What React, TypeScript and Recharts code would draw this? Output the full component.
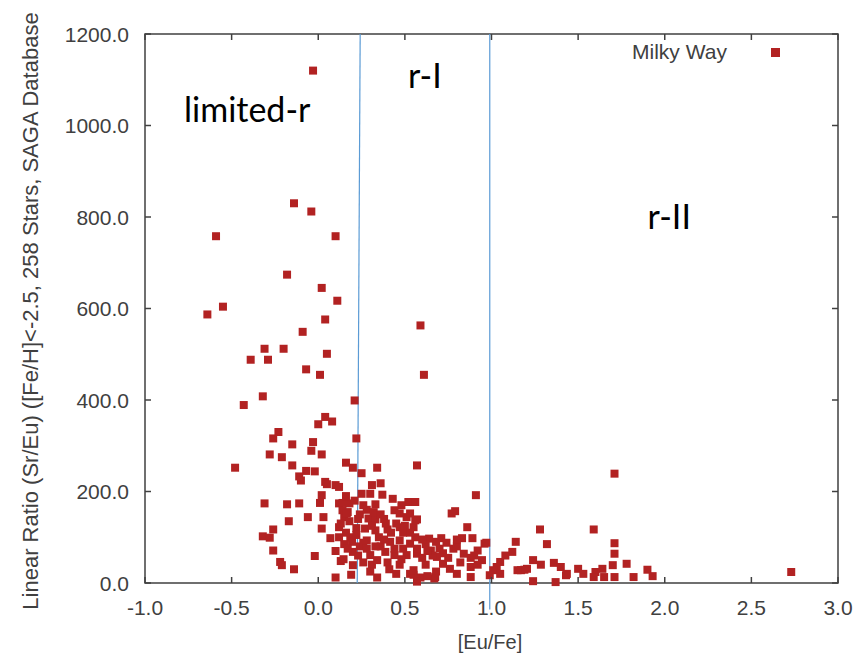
import React from 'react';
import {
  ScatterChart, Scatter, XAxis, YAxis, ZAxis, ReferenceLine, ReferenceArea,
  ReferenceDot, Legend
} from 'recharts';

// [Eu/Fe] and linear Sr/Eu ratio
const euFe = [
  -0.03, -0.14, -0.04, -0.59, 0.10, -0.18, 0.02, 0.11, -0.55, -0.64,
  0.04, 0.59, -0.09, -0.31, -0.20, 0.05, -0.39, -0.29, -0.07, 0.01,
  0.61, -0.32, -0.43, 0.21, 0.04, 0.00, 0.08, -0.23, -0.26, 0.22,
  -0.15, -0.03, -0.04, -0.28, 0.02, -0.21, -0.48, -0.15, 0.16, 0.20,
  0.34, 0.57, 0.25, -0.07, -0.02, -0.11, -0.10, 0.04, 0.05, 0.10,
  0.12, 0.31, 0.36, 0.02, 0.25, 0.30, 0.37, 0.91, 1.71, -0.31,
  -0.18, -0.11, 0.01, 0.12, 0.18, 0.33, 0.43, 0.52, 0.48, 0.44,
  0.17, 0.15, -0.17, -0.06, 0.03, 0.77, 0.79, 0.51, 0.57, 0.18,
  0.29, 0.33, 0.02, -0.26, -0.32, -0.28, 0.12, 0.27, 0.33, 0.40,
  0.47, 0.55, 0.86, 0.07, 0.71, 0.83, 0.89, 0.96, -0.26, -0.02,
  0.10, -0.22, -0.21, -0.14, 0.13, 0.20, 0.10, 0.19, 0.34, 0.55,
  0.59, 0.57, 0.14, 0.165, 0.47, 0.56, 0.185, 0.195, 0.28, 0.35,
  0.415, 0.47, 0.53, 0.56, 0.146, 0.20, 0.30, 0.387, 0.44, 0.51,
  0.57, 0.53, 0.56, 0.53, 0.64, 0.57, 0.65, 0.685, 0.78, 0.84,
  0.92, 0.945, 1.03, 1.05, 1.17, 1.205, 0.55, 0.675, 0.76, 0.80,
  0.88, 0.99, 1.01, 0.72, 0.88, 1.14, 1.12, 1.28, 1.59, 1.32,
  1.71, 1.71, 1.24, 1.285, 1.19, 1.36, 1.40, 1.435, 1.50, 1.53,
  1.60, 1.64, 1.70, 1.78, 1.71, 1.65, 1.59, 1.82, 1.90, 1.93,
  1.24, 1.37, 1.43, 2.73, 1.15, 1.05, 0.67, 0.62, 0.68, 0.74,
  0.80, 0.66, 0.70, 0.75, 0.82, 0.88, 0.92, 0.62, 0.68, 0.97,
  0.13, 0.16, 0.22, 0.24, 0.23, 0.26, 0.15, 0.12, 0.40, 0.47,
  0.36, 0.42, 0.49, 0.31, 0.24, 0.38, 0.14, 0.16, 0.21, 0.26,
  0.28, 0.23, 0.32, 0.36, 0.39, 0.45, 0.50, 0.31, 0.22, 0.26,
  0.33, 0.38, 0.44, 0.49, 0.53, 0.60, 0.63, 0.60, 0.17, 0.28,
  0.34, 0.41, 0.48, 0.72, 0.80, 0.90, 1.08, 0.30, 0.63, 0.45,
];

const srEu = [
  1120, 830, 812, 758, 758, 674, 645, 617, 604, 587,
  576, 563, 549, 512, 512, 501, 488, 488, 467, 455,
  455, 408, 389, 399, 363, 347, 353, 330, 316, 316,
  303, 308, 289, 281, 281, 275, 252, 257, 263, 252,
  252, 257, 240, 245, 244, 233, 224, 221, 216, 214,
  210, 214, 218, 192, 195, 195, 193, 192, 239, 174,
  172, 174, 175, 174, 174, 172, 184, 177, 170, 159,
  155, 144, 135, 144, 144, 152, 157, 144, 139, 135,
  141, 139, 119, 117, 102, 99, 122, 119, 115, 117,
  122, 122, 122, 98, 98, 98, 98, 86, 71, 59,
  70, 46, 39, 30, 48, 39, 12, 18, 12, 18,
  12, 3, 159, 152, 152, 137, 100, 90, 93, 100,
  90, 93, 86, 100, 52, 68, 61, 68, 61, 61,
  64, 20, 177, 152, 97, 75, 71, 57, 75, 64,
  71, 50, 35, 46, 28, 31, 28, 13, 31, 20,
  13, 17, 28, 42, 35, 90, 68, 117, 117, 85,
  87, 64, 50, 40, 29, 44, 35, 20, 31, 20,
  24, 31, 39, 42, 13, 13, 13, 13, 29, 15,
  4, 2, 17, 24, 28, 20, 10, 85, 90, 88,
  80, 60, 75, 55, 45, 55, 40, 40, 25, 88,
  130, 110, 120, 80, 60, 45, 85, 100, 45, 40,
  80, 110, 110, 40, 150, 140, 175, 190, 180, 170,
  160, 140, 155, 150, 130, 130, 125, 125, 105, 88,
  80, 95, 75, 75, 110, 95, 70, 55, 75, 75,
  50, 30, 52, 65, 95, 60, 60, 25, 15, 20,
];

const xTicks = [-1.0, -0.5, 0.0, 0.5, 1.0, 1.5, 2.0, 2.5, 3.0];
const yTicks = [0, 200, 400, 600, 800, 1000, 1200];

// class boundaries drawn in the original (the first one leans slightly)
const limitedBoundary = [{ x: 0.242, y: 1200 }, { x: 0.225, y: 0 }];
const r2Boundary = [{ x: 0.99, y: 1200 }, { x: 0.99, y: -58 }];

const regionLabels = [
  { name: 'limited-r', x: -0.41, y: 1035 },
  { name: 'r-I', x: 0.615, y: 1109 },
  { name: 'r-II', x: 2.026, y: 801 },
];

const seriesName = 'Milky Way';

const points = euFe.map((x, i) => ({ x, y: srEu[i] }));

const W = 858;
const H = 659;
const PLOT_W = 693;
const PLOT_H = 549;
const AXIS = '#404040';
const RED = '#B22222';
const FONT = '"Liberation Sans", Arial, sans-serif';

const XTick = (props: any) => {
  const { x, y, payload } = props;
  return (
    <g>
      <line x1={x} y1={y} x2={x} y2={y - 6} stroke={AXIS} strokeWidth={1.5} />
      <line x1={x} y1={y - PLOT_H} x2={x} y2={y - PLOT_H + 6} stroke={AXIS} strokeWidth={1.5} />
      <text x={x} y={y + 32} textAnchor="middle" fontSize={21} fontFamily={FONT} fill={AXIS}>
        {Number(payload.value).toFixed(1)}
      </text>
    </g>
  );
};

const YTick = (props: any) => {
  const { x, y, payload } = props;
  return (
    <g>
      <line x1={x} y1={y} x2={x + 6} y2={y} stroke={AXIS} strokeWidth={1.5} />
      <line x1={x + PLOT_W} y1={y} x2={x + PLOT_W - 6} y2={y} stroke={AXIS} strokeWidth={1.5} />
      <text x={x - 16} y={y + 7.5} textAnchor="end" fontSize={21} fontFamily={FONT} fill={AXIS}>
        {Number(payload.value).toFixed(1)}
      </text>
    </g>
  );
};

const YTitle = () => (
  <text
    x={30}
    y={311}
    transform="rotate(-90 30 311)"
    textAnchor="middle"
    dominantBaseline="central"
    fontSize={22}
    fontFamily={FONT}
    fill={AXIS}
  >
    Linear Ratio (Sr/Eu) ([Fe/H]&lt;-2.5, 258 Stars, SAGA Database
  </text>
);

const XTitle = () => (
  <text x={490} y={649} textAnchor="middle" fontSize={20} fontFamily={FONT} fill={AXIS}>
    [Eu/Fe]
  </text>
);

const LegendBox = () => (
  <div style={{ display: 'flex', alignItems: 'center', height: 24, lineHeight: '24px' }}>
    <span style={{ fontFamily: FONT, fontSize: 21, color: AXIS }}>{seriesName}</span>
    <span style={{ display: 'inline-block', width: 9, height: 9, background: RED, marginLeft: 44 }} />
  </div>
);

export default function App() {
  return (
    <div style={{ position: 'absolute', left: 0, top: 0, background: '#fff' }}>
      <ScatterChart width={W} height={H} margin={{ top: 34, right: 20, bottom: 0, left: 0 }}>
        <XAxis
          type="number"
          dataKey="x"
          domain={[-1, 3]}
          ticks={xTicks}
          height={76}
          axisLine={false}
          tickLine={false}
          tickSize={0}
          tickMargin={0}
          tick={<XTick />}
          interval={0}
          label={<XTitle />}
        />
        <YAxis
          type="number"
          dataKey="y"
          domain={[0, 1200]}
          ticks={yTicks}
          width={145}
          axisLine={false}
          tickLine={false}
          tickSize={0}
          tickMargin={0}
          tick={<YTick />}
          interval={0}
          label={<YTitle />}
        />
        <ZAxis type="number" range={[100, 100]} />
        <ReferenceArea x1={-1} x2={3} y1={0} y2={1200} fill="none" stroke={AXIS} strokeWidth={1.5} ifOverflow="visible" />
        <ReferenceLine segment={limitedBoundary} stroke="#5B9BD5" strokeWidth={1.2} ifOverflow="visible" />
        <ReferenceLine segment={r2Boundary} stroke="#5B9BD5" strokeWidth={1.2} ifOverflow="visible" />
        {regionLabels.map((r) => (
          <ReferenceDot
            key={r.name}
            x={r.x}
            y={r.y}
            r={0}
            fill="none"
            stroke="none"
            label={{ value: r.name, position: 'center', fontSize: 34, fontFamily: 'Lato, "Noto Sans", sans-serif', fill: '#000' }}
          />
        ))}
        <Legend
          verticalAlign="middle"
          align="center"
          content={<LegendBox />}
          wrapperStyle={{ left: 632, top: 40, width: 200, height: 24 }}
        />
        <Scatter name={seriesName} data={points} fill={RED} shape="square" isAnimationActive={false} />
      </ScatterChart>
    </div>
  );
}
